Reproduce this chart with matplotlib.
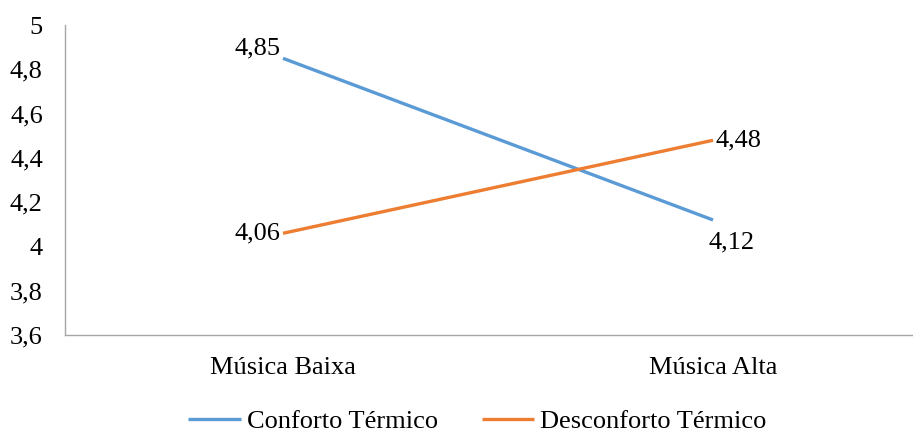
import matplotlib

matplotlib.use("Agg")
import matplotlib.pyplot as plt

categories = ["Música Baixa", "Música Alta"]
conforto = [4.85, 4.12]
desconforto = [4.06, 4.48]
yticks = [3.6, 3.8, 4.0, 4.2, 4.4, 4.6, 4.8, 5.0]

BLUE = "#5B9BD5"
ORANGE = "#ED7D31"
AXIS_GREY = "#A6A6A6"
FS = 19

plt.rcParams["font.family"] = ["Liberation Serif", "DejaVu Serif"]


def fmt(value):
    text = f"{value:.2f}".rstrip("0").rstrip(".")
    return text.replace(".", ",")


fig = plt.figure(figsize=(9.13, 4.33), dpi=100)
ax = fig.add_axes([0.0712, 0.226, 0.9288, 0.716])

x = list(range(len(categories)))
ax.plot(x, conforto, color=BLUE, lw=2.4, solid_capstyle="butt", label="Conforto Térmico")
ax.plot(x, desconforto, color=ORANGE, lw=2.4, solid_capstyle="butt", label="Desconforto Térmico")

# value labels: left of the first point, right of the last
ax.annotate(fmt(conforto[0]), (0, conforto[0]), xytext=(-2, 7), textcoords="offset points",
            ha="right", va="center", fontsize=FS)
ax.annotate(fmt(desconforto[0]), (0, desconforto[0]), xytext=(-2, 0), textcoords="offset points",
            ha="right", va="center", fontsize=FS)
ax.annotate(fmt(desconforto[1]), (1, desconforto[1]), xytext=(2, 0), textcoords="offset points",
            ha="left", va="center", fontsize=FS)
ax.annotate(fmt(conforto[1]), (1, conforto[1]), xytext=(-3.5, -16), textcoords="offset points",
            ha="left", va="center", fontsize=FS)

ax.set_xlim(-0.507, 1.465)
ax.set_ylim(3.6, 5.0)
ax.set_yticks(yticks)
ax.set_yticklabels([fmt(v) for v in yticks])
ax.set_xticks(x)
ax.set_xticklabels(categories)
ax.tick_params(axis="both", length=0, labelsize=FS, colors="black")
ax.tick_params(axis="y", pad=16)
ax.tick_params(axis="x", pad=16)

for side in ("top", "right"):
    ax.spines[side].set_visible(False)
for side in ("left", "bottom"):
    ax.spines[side].set_color(AXIS_GREY)
    ax.spines[side].set_linewidth(1.0)

fig.legend(loc="lower center", bbox_to_anchor=(0.523, -0.055), ncol=2, frameon=False,
           fontsize=FS, handlelength=2.0, handletextpad=0.23, columnspacing=1.65)

fig.savefig("out.png", dpi=100)
